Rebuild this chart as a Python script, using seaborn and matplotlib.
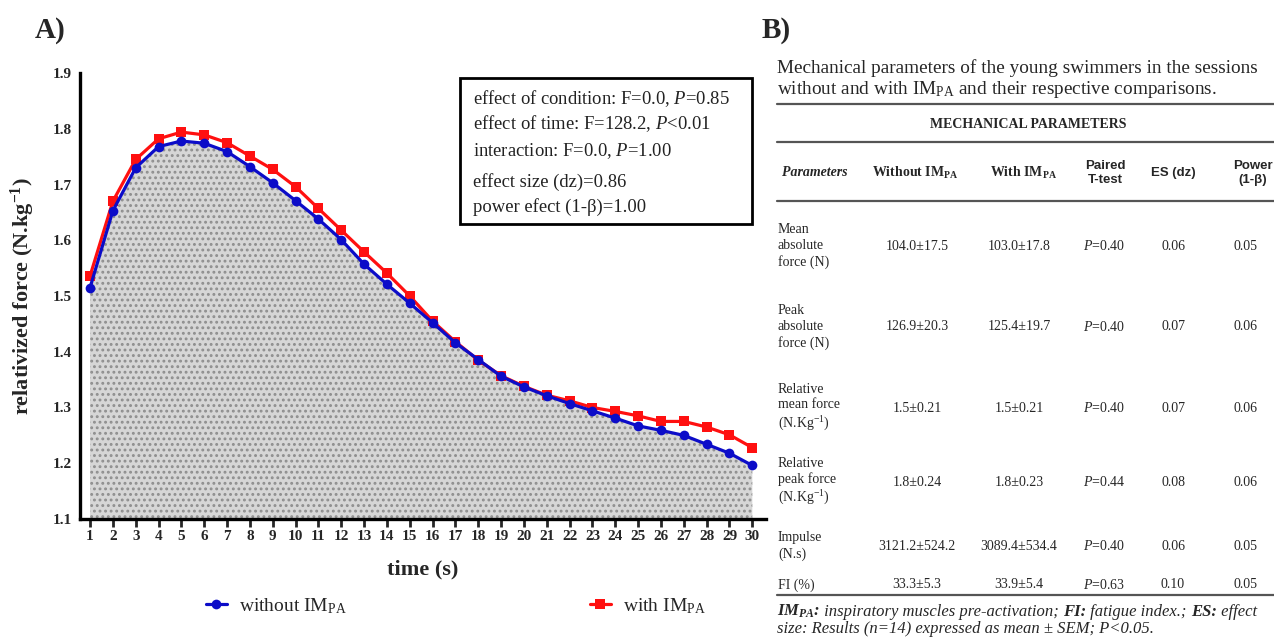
import numpy as np
import pandas as pd
import matplotlib
matplotlib.use('Agg')
import matplotlib.pyplot as plt
import seaborn as sns

# ---- data ----
time_s = list(range(1, 31))
without_impa = [1.515, 1.653, 1.730, 1.768, 1.778, 1.774, 1.759, 1.732, 1.703, 1.671,
                1.638, 1.601, 1.557, 1.521, 1.487, 1.452, 1.416, 1.386, 1.356, 1.337,
                1.321, 1.307, 1.294, 1.281, 1.267, 1.259, 1.250, 1.234, 1.218, 1.196]
with_impa = [1.536, 1.670, 1.745, 1.782, 1.794, 1.789, 1.775, 1.751, 1.727, 1.696,
             1.657, 1.618, 1.579, 1.541, 1.500, 1.455, 1.418, 1.385, 1.357, 1.338,
             1.322, 1.312, 1.300, 1.293, 1.285, 1.275, 1.275, 1.265, 1.251, 1.228]
y_ticks = [1.1, 1.2, 1.3, 1.4, 1.5, 1.6, 1.7, 1.8, 1.9]

stats_lines = ["effect of condition: F=0.0, $\\it{P}$=0.85",
               "effect of time: F=128.2, $\\it{P}$<0.01",
               "interaction: F=0.0, $\\it{P}$=1.00",
               "effect size (dz)=0.86",
               "power efect (1-\u03b2)=1.00"]

param_labels = ["Mean\nabsolute\nforce (N)", "Peak\nabsolute\nforce (N)",
                "Relative\nmean force\n(N.Kg$^{\\mathregular{-1}}$)",
                "Relative\npeak force\n(N.Kg$^{\\mathregular{-1}}$)",
                "Impulse\n(N.s)", "FI (%)"]
without_vals = ["104.0\u00b117.5", "126.9\u00b120.3", "1.5\u00b10.21", "1.8\u00b10.24",
                "3121.2\u00b1524.2", "33.3\u00b15.3"]
with_vals = ["103.0\u00b117.8", "125.4\u00b119.7", "1.5\u00b10.21", "1.8\u00b10.23",
             "3089.4\u00b1534.4", "33.9\u00b15.4"]
ttest_p = ["0.40", "0.40", "0.40", "0.44", "0.40", "0.63"]
es_dz = ["0.06", "0.07", "0.07", "0.08", "0.06", "0.10"]
power_vals = ["0.05", "0.06", "0.06", "0.06", "0.05", "0.05"]

lab_without = "without IM$_\\mathregular{PA}$"
lab_with = "with IM$_\\mathregular{PA}$"

df = pd.DataFrame({
    'time': time_s * 2,
    'force': with_impa + without_impa,
    'condition': [lab_with] * 30 + [lab_without] * 30,
})

sns.set_theme(style="white")
plt.rcParams['font.family'] = ['Liberation Serif', 'DejaVu Serif']
plt.rcParams['mathtext.fontset'] = 'custom'
plt.rcParams['mathtext.rm'] = 'Liberation Serif'
plt.rcParams['mathtext.it'] = 'Liberation Serif:italic'
plt.rcParams['mathtext.bf'] = 'Liberation Serif:bold'
plt.rcParams['hatch.linewidth'] = 1.3

W, H = 1274, 639
fig = plt.figure(figsize=(12.74, 6.39), dpi=100)

# ---- panel A: line chart ----
ax = fig.add_axes([80 / W, 1 - 519 / H, (766 - 80) / W, (519 - 73) / H])
ax.fill_between(time_s, 1.1, without_impa, facecolor='#d6d6d6', hatch='...',
                edgecolor='#8e8e8e', linewidth=0, zorder=0)
sns.lineplot(data=df, x='time', y='force', hue='condition', style='condition',
             hue_order=[lab_with, lab_without], style_order=[lab_with, lab_without],
             palette={lab_with: '#ff1010', lab_without: '#0c0cc8'},
             markers={lab_with: 's', lab_without: 'o'}, dashes=False,
             linewidth=2.3, markersize=7, markeredgewidth=0, ax=ax)

ax.set_xlim(0.56, 30.6)
ax.set_ylim(1.1, 1.9)
ax.set_xticks(time_s)
ax.set_yticks(y_ticks)
ax.set_yticklabels([f"{v:.1f}" for v in y_ticks])
for s in ['top', 'right']:
    ax.spines[s].set_visible(False)
for s in ['left', 'bottom']:
    ax.spines[s].set_linewidth(2.4)
    ax.spines[s].set_color('black')
ax.tick_params(axis='x', length=6, width=2, direction='out', bottom=True, pad=2,
               labelsize=11)
ax.tick_params(axis='y', length=0, pad=6, labelsize=11)
for t in ax.get_xticklabels() + ax.get_yticklabels():
    t.set_fontweight('bold')
ax.set_xlabel('time (s)', fontsize=16, fontweight='bold')
ax.set_ylabel('relativized force (N.kg$^{\\mathregular{-1}}$)', fontsize=16,
              fontweight='bold')
ax.xaxis.set_label_coords(0.5, -0.09)
ax.yaxis.set_label_coords(-0.062, 0.5)

# blue entry first like the reference (red is drawn first so blue sits on top)
h, l = ax.get_legend_handles_labels()
ax.legend(h[::-1], l[::-1], loc='center left', bbox_to_anchor=(196 / W, 1 - 606 / H),
          bbox_transform=fig.transFigure, ncol=2, frameon=False, fontsize=14,
          handlelength=1.1, handletextpad=0.6, columnspacing=12.5, borderpad=0)

# ---- overlay axes in pixel coordinates for text ----
tax = fig.add_axes([0, 0, 1, 1])
tax.set_xlim(0, W)
tax.set_ylim(H, 0)
tax.axis('off')

tax.text(35, 30, 'A)', fontsize=21, fontweight='bold', va='center', ha='left')
tax.text(762, 30, 'B)', fontsize=21, fontweight='bold', va='center', ha='left')

# stats box
tax.add_patch(plt.Rectangle((460, 78), 292, 146, fill=False, edgecolor='black',
                            linewidth=2))
for txt, yy in zip(stats_lines, [99, 124, 151, 182, 207]):
    tax.text(473, yy, txt, fontsize=13.4, va='center', ha='left', color='#222222')

# ---- panel B: table ----
tax.text(777, 68, 'Mechanical parameters of the young swimmers in the sessions',
         fontsize=13.9, va='center', ha='left')
tax.text(777, 90, 'without and with IM$_\\mathregular{PA}$ and their respective comparisons.',
         fontsize=13.9, va='center', ha='left')
for yy in [104, 142, 201, 595]:
    tax.plot([777, W], [yy, yy], color='#555555', linewidth=1.6)

tax.text(1028, 124, 'MECHANICAL PARAMETERS', fontsize=10, fontweight='bold',
         va='center', ha='center')
tax.text(782, 173, 'Parameters', fontsize=10, fontweight='bold', style='italic',
         va='center', ha='left')
tax.text(915, 173, 'Without IM$_\\mathregular{PA}$', fontsize=10, fontweight='bold',
         va='center', ha='center')
tax.text(1024, 173, 'With IM$_\\mathregular{PA}$', fontsize=10, fontweight='bold',
         va='center', ha='center')
for txt, xx in zip(['Paired\nT-test', 'ES (dz)', 'Power\n(1-\u03b2)'], [1105, 1173, 1253]):
    tax.text(xx, 173, txt, fontsize=9.5, fontweight='bold', va='center', ha='center',
             family='Liberation Sans', linespacing=1.15, multialignment='center')

row_y = [246, 327, 408, 482, 546, 585]
for i, yy in enumerate(row_y):
    tax.text(778, yy, param_labels[i], fontsize=10, va='center', ha='left',
             linespacing=1.25)
    tax.text(917, yy, without_vals[i], fontsize=10, va='center', ha='center')
    tax.text(1019, yy, with_vals[i], fontsize=10, va='center', ha='center')
    tax.text(1104, yy, '$\\it{P}$=' + ttest_p[i], fontsize=10, va='center', ha='center')
    tax.text(1173, yy, es_dz[i], fontsize=10, va='center', ha='center')
    tax.text(1246, yy, power_vals[i], fontsize=10, va='center', ha='center')

# footnote with mixed bold-italic / italic pieces
foot1 = [('IM$_\\mathregular{PA}$:', 'bold'), (' inspiratory muscles pre-activation; ', 'normal'),
         ('FI:', 'bold'), (' fatigue index.; ', 'normal'), ('ES:', 'bold'), (' effect', 'normal')]
prev = None
for txt, wt in foot1:
    if prev is None:
        prev = tax.text(777, 620, txt, fontsize=12, style='italic', fontweight=wt,
                        va='bottom', ha='left')
    else:
        prev = tax.annotate(txt, xy=(1, 0), xycoords=prev, fontsize=12, style='italic',
                            fontweight=wt, va='bottom', ha='left')
tax.text(777, 629, 'size: Results (n=14) expressed as mean \u00b1 SEM; P<0.05.',
         fontsize=12, style='italic', va='center', ha='left')

fig.savefig('out.png', dpi=100)
